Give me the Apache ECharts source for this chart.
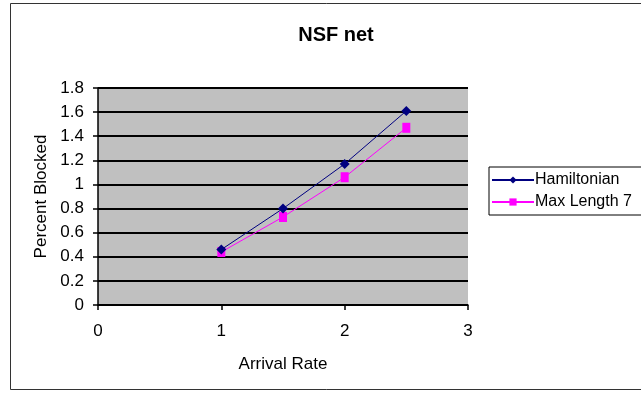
<!DOCTYPE html>
<html><head><meta charset="utf-8">
<script src="https://cdn.jsdelivr.net/npm/echarts@6/dist/echarts.min.js"></script>
<style>html,body{margin:0;padding:0;background:#fff}#c{width:641px;height:393px}</style>
</head><body><div id="c"></div>
<script>
const arrivalRates = [1, 1.5, 2, 2.5];
const hamiltonian = [0.46, 0.80, 1.17, 1.61];
const maxLength7 = [0.44, 0.73, 1.06, 1.47];
const seriesNames = ['Hamiltonian', 'Max Length 7'];
const titleText = 'NSF net';
const xTitle = 'Arrival Rate';
const yTitle = 'Percent Blocked';

const chart = echarts.init(document.getElementById('c'));
const font = 'Liberation Sans, Arial, sans-serif';
chart.setOption({
  animation: false,
  backgroundColor: '#fff',
  graphic: [{type:'rect', shape:{x:10.5,y:3.5,width:640,height:386}, style:{fill:'none',stroke:'#333',lineWidth:1}}],
  title: {text: titleText, left: 331, top: 20, textAlign: 'center',
    textStyle:{fontFamily:font, fontSize:20, fontWeight:'bold', color:'#000'}},
  legend: {orient:'vertical', left:489, top:167, itemGap:6, itemWidth:42, itemHeight:9,
    borderColor:'#000', borderWidth:1, padding:[5,14,5,2], borderRadius:0,
    textStyle:{fontFamily:font, fontSize:16, color:'#000', padding:[0,0,0,-4]},
    data: seriesNames},
  grid: {left:98, top:88, width:370, height:217, show:true, backgroundColor:'#c0c0c0', borderWidth:0},
  xAxis: {type:'value', min:0, max:3, interval:1, name:xTitle, nameLocation:'middle', nameGap:51,
    nameTextStyle:{fontFamily:font, fontSize:17, color:'#000'},
    axisLine:{onZero:false, lineStyle:{color:'#000', width:1.5}}, axisTick:{show:true, inside:false, length:5, lineStyle:{color:'#000', width:1.5}},
    axisLabel:{fontFamily:font, fontSize:17, color:'#000', margin:18},
    splitLine:{show:false}},
  yAxis: {type:'value', min:0, max:1.8, interval:0.2, name:yTitle, nameLocation:'middle', nameGap:48,
    nameTextStyle:{fontFamily:font, fontSize:17, color:'#000'},
    axisLine:{show:true, lineStyle:{color:'#000', width:1.5}}, axisTick:{show:true, length:5, lineStyle:{color:'#000', width:1.5}},
    axisLabel:{fontFamily:font, fontSize:17, color:'#000', margin:14,
      formatter: v => String(Math.round(v*10)/10)},
    splitLine:{show:true, lineStyle:{color:'#000', width:2}}},
  series: [
    {name: seriesNames[0], type:'line', data: arrivalRates.map((x,i)=>[x, hamiltonian[i]]),
      symbol:'diamond', symbolSize:10, itemStyle:{color:'#000080'}, lineStyle:{color:'#000080', width:1}, z:3},
    {name: seriesNames[1], type:'line', data: arrivalRates.map((x,i)=>[x, maxLength7[i]]),
      symbol:'rect', symbolSize:[8,10], itemStyle:{color:'#ff00ff'}, lineStyle:{color:'#ff00ff', width:1}, z:2}
  ]
});
</script></body></html>
